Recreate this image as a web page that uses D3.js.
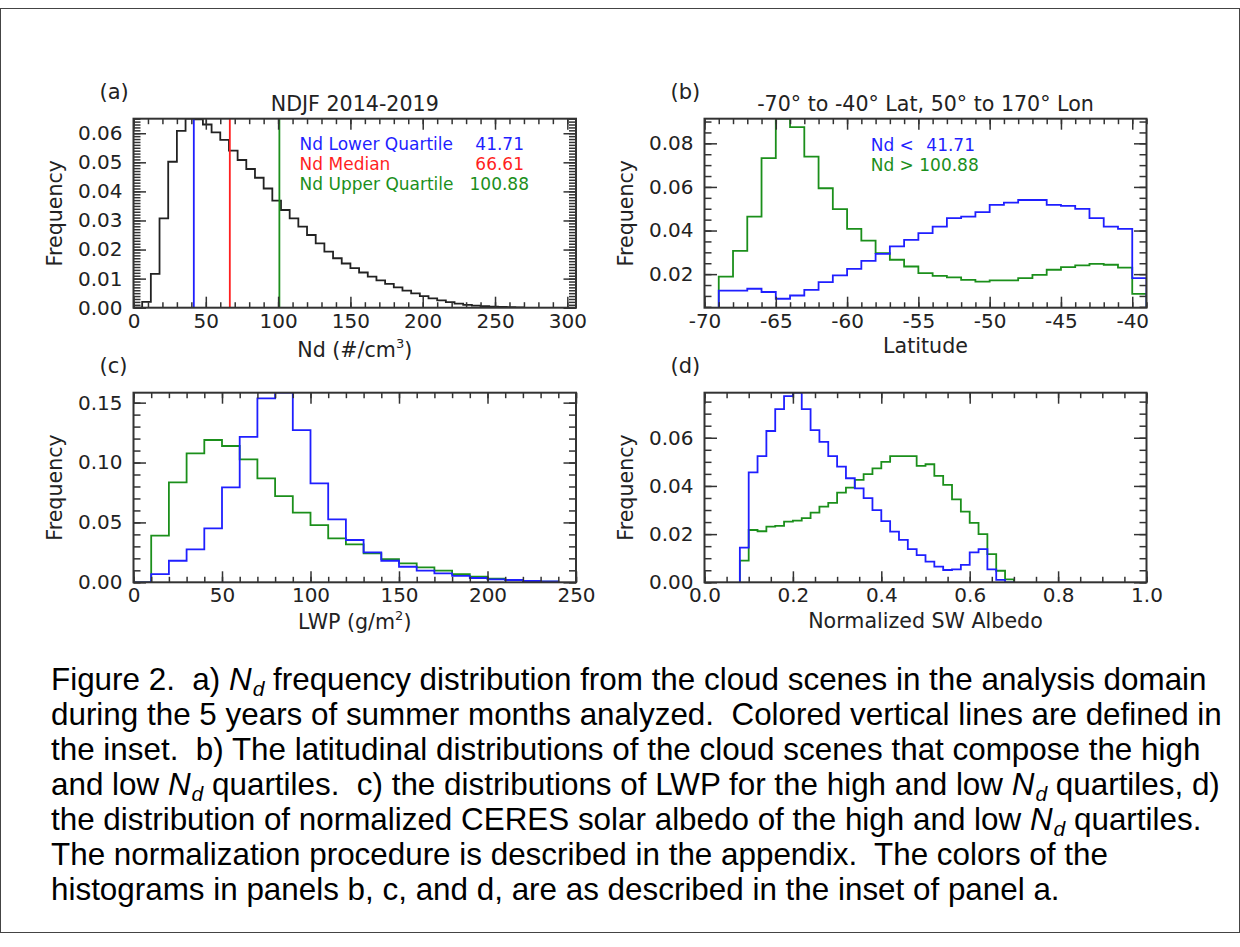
<!DOCTYPE html>
<html>
<head>
<meta charset="utf-8">
<title>Figure 2 - Nd distributions</title>
<script src="https://d3js.org/d3.v7.min.js"></script>
<style>
  body { margin: 0; background: #fff; }
  svg text { font-family: "DejaVu Sans", sans-serif; }
  .caption { font-family: "Liberation Sans", Arial, sans-serif; white-space: pre; }
</style>
</head>
<body>
<svg id="fig" width="1240" height="947"></svg>
<script>

// ---- data ----

// (a) Nd histogram, 6 #/cm3 bins starting at 0
var ndBinStart = 0, ndBinWidth = 6;
var ndFreq = [0.0000, 0.0020, 0.0116, 0.0307, 0.0502, 0.0608, 0.0650, 0.0648, 0.0630, 0.0603,
              0.0577, 0.0540, 0.0508, 0.0477, 0.0447, 0.0410, 0.0368, 0.0336, 0.0307, 0.0279,
              0.0250, 0.0221, 0.0193, 0.0170, 0.0152, 0.0136, 0.0121, 0.0107, 0.0094, 0.0082,
              0.0070, 0.0059, 0.0049, 0.0040, 0.0032, 0.0025, 0.0019, 0.0014, 0.0010, 0.0007,
              0.0005, 0.0004, 0.0003, 0.0002, 0.0001];
var quartileNames = ["Nd Lower Quartile", "Nd Median", "Nd Upper Quartile"];
var quartileValues = [41.71, 66.61, 100.88];
var quartileLabels = ["41.71", "66.61", "100.88"];

// (b) latitude histograms, 1 degree bins starting at -69
var latBinStart = -69, latBinWidth = 1;
var latLow = [0.0124, 0.0124, 0.0133, 0.0118, 0.0087, 0.0102, 0.0128, 0.0163, 0.0194, 0.0224,
              0.0261, 0.0293, 0.0327, 0.0357, 0.0388, 0.0418, 0.0457, 0.0464, 0.0484, 0.0518,
              0.0528, 0.0540, 0.0540, 0.0518, 0.0513, 0.0499, 0.0457, 0.0418, 0.0408, 0.0182];
var latHigh = [0.0189, 0.0307, 0.0464, 0.0732, 0.0913, 0.0874, 0.0739, 0.0594, 0.0498, 0.0408,
               0.0354, 0.0296, 0.0266, 0.0235, 0.0205, 0.0192, 0.0185, 0.0174, 0.0166, 0.0171,
               0.0171, 0.0182, 0.0197, 0.0220, 0.0232, 0.0240, 0.0247, 0.0243, 0.0230, 0.0109];

// (c) LWP histograms, 10 g/m2 bins starting at 0
var lwpBinStart = 0, lwpBinWidth = 10;
var lwpLow = [0.0000, 0.0069, 0.0180, 0.0275, 0.0450, 0.0793, 0.1215, 0.1536, 0.1583, 0.1271,
              0.0826, 0.0526, 0.0353, 0.0250, 0.0180, 0.0130, 0.0097, 0.0075, 0.0053, 0.0036,
              0.0025, 0.0019, 0.0011, 0.0008];
var lwpHigh = [0.0000, 0.0389, 0.0835, 0.1077, 0.1188, 0.1138, 0.1027, 0.0868, 0.0720, 0.0581,
               0.0478, 0.0367, 0.0317, 0.0242, 0.0194, 0.0158, 0.0125, 0.0097, 0.0069, 0.0047,
               0.0031, 0.0019, 0.0011, 0.0006];

// (d) normalized albedo histograms, 0.02 bins starting at 0.08
var albBinStart = 0.08, albBinWidth = 0.02;
var albLow = [0.0144, 0.0456, 0.0524, 0.0628, 0.0719, 0.0773, 0.0787, 0.0719, 0.0632, 0.0583,
              0.0524, 0.0480, 0.0432, 0.0390, 0.0349, 0.0300, 0.0254, 0.0210, 0.0176, 0.0138,
              0.0113, 0.0086, 0.0065, 0.0051, 0.0054, 0.0072, 0.0124, 0.0138, 0.0054, 0.0010, 0.0000];
var albHigh = [0.0090, 0.0217, 0.0212, 0.0231, 0.0234, 0.0252, 0.0256, 0.0266, 0.0289, 0.0314,
               0.0330, 0.0372, 0.0393, 0.0425, 0.0449, 0.0473, 0.0500, 0.0524, 0.0524, 0.0524,
               0.0483, 0.0490, 0.0442, 0.0404, 0.0344, 0.0293, 0.0247, 0.0200, 0.0117, 0.0048, 0.0012];

var captionLines = [
  "Figure 2.  a) {Nd} frequency distribution from the cloud scenes in the analysis domain",
  "during the 5 years of summer months analyzed.  Colored vertical lines are defined in",
  "the inset.  b) The latitudinal distributions of the cloud scenes that compose the high",
  "and low {Nd} quartiles.  c) the distributions of LWP for the high and low {Nd} quartiles, d)",
  "the distribution of normalized CERES solar albedo of the high and low {Nd} quartiles.",
  "The normalization procedure is described in the appendix.  The colors of the",
  "histograms in panels b, c, and d, are as described in the inset of panel a."
];

// ---- layout ----
var blue = "#1f1fff", red = "#ff1f1f", green = "#1b8f1b", ink = "#222";
var colL = [133.5, 576], colR = [704.5, 1146.5];
var rowT = [307.7, 118.7], rowB = [582.3, 392.7];

var svg = d3.select("#fig");

// outer frame
svg.append("rect")
  .attr("x", 0.5).attr("y", 8.5)
  .attr("width", 1239).attr("height", 924)
  .attr("fill", "none").attr("stroke", "#444").attr("stroke-width", 1);

var clipId = 0;

function panel(o) {
  var x = d3.scaleLinear().domain(o.xDomain).range(o.cols);
  var y = d3.scaleLinear().domain(o.yDomain).range(o.rows);
  var g = svg.append("g");
  var left = o.cols[0], right = o.cols[1], bottom = o.rows[0], top = o.rows[1];

  clipId++;
  g.append("clipPath").attr("id", "clip" + clipId)
    .append("rect").attr("x", left).attr("y", top)
    .attr("width", right - left).attr("height", bottom - top);
  var plot = g.append("g").attr("clip-path", "url(#clip" + clipId + ")");

  // histograms as steps
  var line = d3.line().curve(d3.curveStepAfter)
    .x(function(d) { return x(d[0]); })
    .y(function(d) { return y(d[1]); });
  o.series.forEach(function(s) {
    var pts = [[s.start, o.yDomain[0]]];
    s.values.forEach(function(v, i) { pts.push([s.start + i * s.width, v]); });
    pts.push([s.start + s.values.length * s.width, s.values[s.values.length - 1]]);
    pts.push([s.start + s.values.length * s.width, o.yDomain[0]]);
    plot.append("path").attr("d", line(pts))
      .attr("fill", "none").attr("stroke", s.color).attr("stroke-width", 1.8);
  });

  if (o.extra) o.extra(plot, x, y);

  // ticks (inward, all four sides)
  var xAxes = [
    [d3.axisBottom(x).tickValues(o.xMajor).tickSize(-11).tickPadding(6).tickFormat(o.xFmt), bottom],
    [d3.axisBottom(x).tickValues(o.xMinor).tickSize(-5.5).tickFormat(""), bottom],
    [d3.axisTop(x).tickValues(o.xMajor).tickSize(-11).tickFormat(""), top],
    [d3.axisTop(x).tickValues(o.xMinor).tickSize(-5.5).tickFormat(""), top]
  ];
  xAxes.forEach(function(a) {
    g.append("g").attr("transform", "translate(0," + a[1] + ")").call(a[0]);
  });
  var yAxes = [
    [d3.axisLeft(y).tickValues(o.yMajor).tickSize(-12.5).tickPadding(11).tickFormat(o.yFmt), left],
    [d3.axisLeft(y).tickValues(o.yMinor).tickSize(-7).tickFormat(""), left],
    [d3.axisRight(y).tickValues(o.yMajor).tickSize(-12.5).tickFormat(""), right],
    [d3.axisRight(y).tickValues(o.yMinor).tickSize(-7).tickFormat(""), right]
  ];
  yAxes.forEach(function(a) {
    g.append("g").attr("transform", "translate(" + a[1] + ",0)").call(a[0]);
  });
  g.selectAll(".domain").remove();
  g.selectAll(".tick line").attr("stroke", "#333").attr("stroke-width", 1.5);
  g.selectAll(".tick text")
    .attr("font-family", "DejaVu Sans").attr("font-size", 20).attr("fill", ink);

  // box
  g.append("rect").attr("x", left).attr("y", top)
    .attr("width", right - left).attr("height", bottom - top)
    .attr("fill", "none").attr("stroke", "#333").attr("stroke-width", 2);

  // labels
  g.append("text").attr("x", left - 34).attr("y", top - 20)
    .attr("font-size", 21).attr("fill", ink).text(o.letter);
  if (o.title) {
    g.append("text").attr("x", (left + right) / 2).attr("y", top - 7.5)
      .attr("text-anchor", "middle").attr("font-size", 20.6).attr("fill", ink).text(o.title);
  }
  var xt = g.append("text").attr("x", (left + right) / 2).attr("y", bottom + o.xTitleDy)
    .attr("text-anchor", "middle").attr("font-size", 20.6).attr("fill", ink);
  o.xTitle(xt);
  g.append("text")
    .attr("transform", "translate(" + (left - 72) + "," + ((top + bottom) / 2) + ") rotate(-90)")
    .attr("text-anchor", "middle").attr("font-size", 20.6).attr("fill", ink).text("Frequency");

  return { g: g, x: x, y: y };
}

function fmt2(d) { return d.toFixed(2); }
function fmtInt(d) { return String(d); }
function sup(t, main, s, after) {
  t.append("tspan").text(main);
  t.append("tspan").attr("font-size", 13).attr("dy", -9).text(s);
  t.append("tspan").attr("dy", 9).text(after);
}

// (a)
var pa = panel({
  cols: colL, rows: rowT, xDomain: [0, 306], yDomain: [0, 0.065],
  xMajor: d3.range(0, 301, 50), xMinor: d3.range(0, 301, 10),
  yMajor: d3.range(0, 7).map(function(i) { return i / 100; }),
  yMinor: d3.range(0, 66).map(function(i) { return i / 1000; }),
  xFmt: fmtInt, yFmt: fmt2, letter: "(a)", title: "NDJF 2014-2019",
  xTitleDy: 49, xTitle: function(t) { sup(t, "Nd (#/cm", "3", ")"); },
  series: [{ start: ndBinStart, width: ndBinWidth, values: ndFreq, color: ink }],
  extra: function(plot, x, y) {
    plot.selectAll(".qline").data(quartileValues).enter().append("line")
      .attr("x1", function(d) { return x(d); }).attr("x2", function(d) { return x(d); })
      .attr("y1", y.range()[0]).attr("y2", y.range()[1])
      .attr("stroke", function(d, i) { return [blue, red, green][i]; })
      .attr("stroke-width", 1.8);
  }
});
quartileNames.forEach(function(n, i) {
  var c = [blue, red, green][i];
  pa.g.append("text").attr("x", 299.6).attr("y", 150 + i * 20)
    .attr("font-size", 17).attr("fill", c).text(n);
  pa.g.append("text").attr("x", i == 2 ? 529 : 524).attr("y", 150 + i * 20)
    .attr("text-anchor", "end").attr("font-size", 17).attr("fill", c).text(quartileLabels[i]);
});

// (b)
var pb = panel({
  cols: colR, rows: rowT, xDomain: [-70, -39], yDomain: [0.0046, 0.0913],
  xMajor: d3.range(-70, -39, 5), xMinor: d3.range(-70, -38, 1),
  yMajor: [0.02, 0.04, 0.06, 0.08],
  yMinor: d3.range(1, 19).map(function(i) { return i * 0.005; }),
  xFmt: fmtInt, yFmt: fmt2, letter: "(b)", title: "-70\u00b0 to -40\u00b0 Lat, 50\u00b0 to 170\u00b0 Lon",
  xTitleDy: 45, xTitle: function(t) { t.text("Latitude"); },
  series: [
    { start: latBinStart, width: latBinWidth, values: latHigh, color: green },
    { start: latBinStart, width: latBinWidth, values: latLow, color: blue }
  ]
});
pb.g.append("text").attr("x", 870.7).attr("y", 151).attr("font-size", 17).attr("fill", blue).text("Nd <");
pb.g.append("text").attr("x", 975).attr("y", 151).attr("text-anchor", "end")
  .attr("font-size", 17).attr("fill", blue).text(quartileLabels[0]);
pb.g.append("text").attr("x", 870.7).attr("y", 171).attr("font-size", 17).attr("fill", green)
  .text("Nd > " + quartileLabels[2]);

// (c)
panel({
  cols: colL, rows: rowB, xDomain: [0, 250], yDomain: [0, 0.1583],
  xMajor: d3.range(0, 251, 50), xMinor: d3.range(0, 251, 10),
  yMajor: [0, 0.05, 0.10, 0.15],
  yMinor: d3.range(0, 16).map(function(i) { return i / 100; }),
  xFmt: fmtInt, yFmt: fmt2, letter: "(c)",
  xTitleDy: 47, xTitle: function(t) { sup(t, "LWP (g/m", "2", ")"); },
  series: [
    { start: lwpBinStart, width: lwpBinWidth, values: lwpHigh, color: green },
    { start: lwpBinStart, width: lwpBinWidth, values: lwpLow, color: blue }
  ]
});

// (d)
panel({
  cols: colR, rows: rowB, xDomain: [0, 1], yDomain: [0, 0.0787],
  xMajor: [0, 0.2, 0.4, 0.6, 0.8, 1.0], xMinor: d3.range(0, 21).map(function(i) { return i * 0.05; }),
  yMajor: [0, 0.02, 0.04, 0.06],
  yMinor: d3.range(0, 16).map(function(i) { return i * 0.005; }),
  xFmt: function(d) { return d.toFixed(1); }, yFmt: fmt2, letter: "(d)",
  xTitleDy: 46, xTitle: function(t) { t.text("Normalized SW Albedo"); },
  series: [
    { start: albBinStart, width: albBinWidth, values: albHigh, color: green },
    { start: albBinStart, width: albBinWidth, values: albLow, color: blue }
  ]
});

// caption
captionLines.forEach(function(line, i) {
  var t = svg.append("text").attr("class", "caption")
    .attr("x", 51).attr("y", 690 + i * 35)
    .attr("font-size", 31.4).attr("fill", "#000");
  var parts = line.split("{Nd}");
  parts.forEach(function(p, j) {
    if (j > 0) {
      t.append("tspan").attr("font-style", "italic").text("N");
      t.append("tspan").attr("font-style", "italic").attr("font-size", 21).attr("dx", 1).attr("dy", 6).text("d");
      t.append("tspan").attr("dy", -6).text(p);
    } else {
      t.append("tspan").text(p);
    }
  });
});

</script>
</body>
</html>
